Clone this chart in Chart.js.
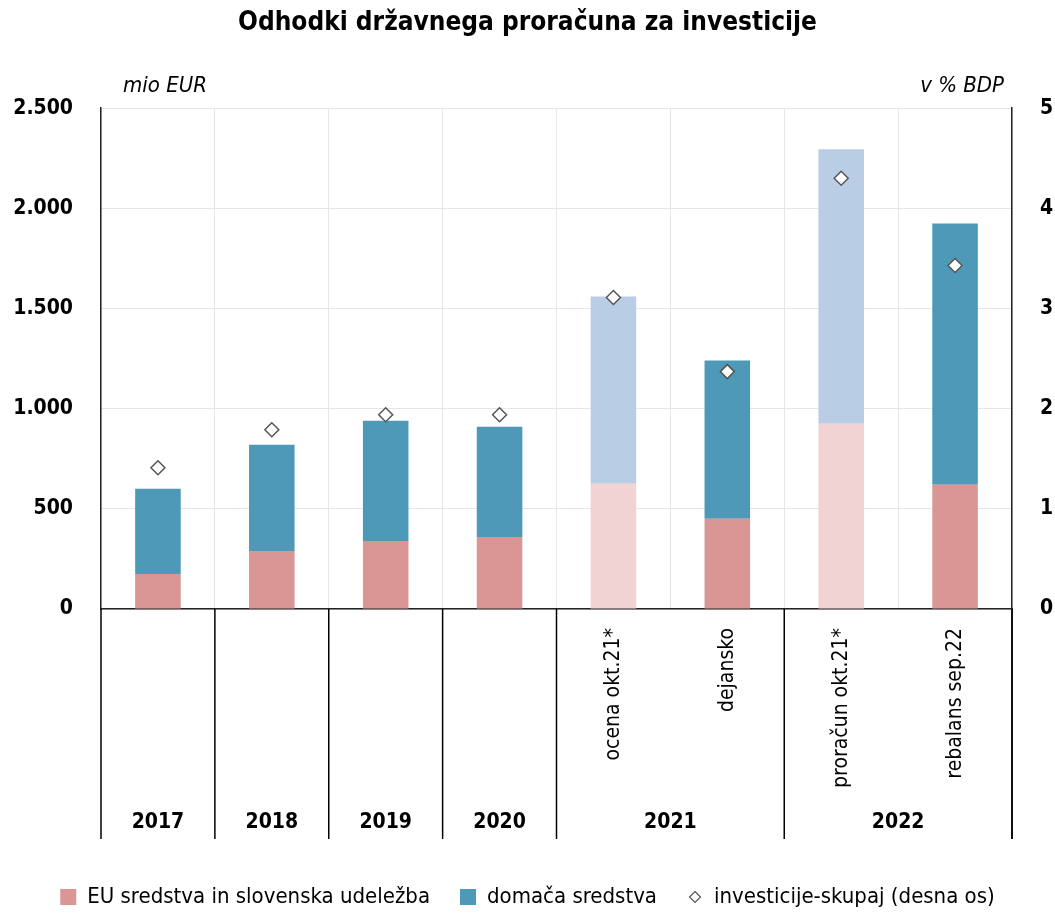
<!DOCTYPE html>
<html lang="sl">

<head>
    <meta charset="UTF-8">
    <title>Odhodki državnega proračuna za investicije</title>
    <script src="https://cdn.jsdelivr.net/npm/chart.js"></script>
    <style>
        html, body {
            margin: 0;
            padding: 0;
            background: #fff;
        }
    </style>
</head>

<body>
    <canvas id="investChart" width="1055" height="918"></canvas>

    <script>
        // data
        var categories = ['2017', '2018', '2019', '2020', 'ocena okt.21*', 'dejansko', 'proračun okt.21*', 'rebalans sep.22'];
        var subLabels = ['', '', '', '', 'ocena okt.21*', 'dejansko', 'proračun okt.21*', 'rebalans sep.22'];
        var yearLabels = ['2017', '2018', '2019', '2020', '2021', '2022'];
        var yearSpans = [[0, 0], [1, 1], [2, 2], [3, 3], [4, 5], [6, 7]];
        var euFunds = [175, 290, 340, 360, 625, 450, 925, 620];
        var domesticFunds = [425, 530, 600, 550, 935, 790, 1370, 1305];
        var investTotalGdp = [1.41, 1.79, 1.94, 1.94, 3.11, 2.37, 4.30, 3.43];
        var leftTicks = [0, 500, 1000, 1500, 2000, 2500];
        var rightTicks = [0, 1, 2, 3, 4, 5];

        var FONT = '"DejaVu Sans Condensed", "Liberation Sans Narrow", sans-serif';
        var pink = '#d99694', pinkLight = '#f2d3d3';
        var blue = '#4e99b7', blueLight = '#b9cde5';
        // planned values (ocena / proračun) are drawn in pale colours
        var planned = [false, false, false, false, true, false, true, false];

        function fmt(v) {
            return v >= 1000 ? Math.floor(v / 1000) + '.' + String(v % 1000).padStart(3, '0') : String(v);
        }

        // small hollow diamond for the legend
        var diamond = document.createElement('canvas');
        diamond.width = 14;
        diamond.height = 14;
        (function () {
            var d = diamond.getContext('2d');
            d.beginPath();
            d.moveTo(7, 1.5); d.lineTo(12.5, 7); d.lineTo(7, 12.5); d.lineTo(1.5, 7); d.closePath();
            d.fillStyle = '#fff';
            d.fill();
            d.strokeStyle = '#555';
            d.lineWidth = 1.2;
            d.stroke();
        })();

        var multiLevel = {
            id: 'multiLevel',
            afterDraw: function (chart) {
                var ctx = chart.ctx, x = chart.scales.x, area = chart.chartArea;
                var half = (x.getPixelForValue(1) - x.getPixelForValue(0)) / 2;
                var bottom = area.bottom + 230;
                ctx.save();
                ctx.strokeStyle = '#000';
                ctx.lineWidth = 1.5;
                // group separators
                var edges = [area.left, area.right];
                yearSpans.forEach(function (s) {
                    edges.push(x.getPixelForValue(s[1]) + half);
                });
                edges.forEach(function (e) {
                    ctx.beginPath();
                    ctx.moveTo(e, area.bottom);
                    ctx.lineTo(e, bottom);
                    ctx.stroke();
                });
                ctx.fillStyle = '#000';
                // rotated sub labels
                ctx.font = '21px ' + FONT;
                subLabels.forEach(function (t, i) {
                    if (!t) return;
                    ctx.save();
                    ctx.translate(x.getPixelForValue(i), area.bottom + 19);
                    ctx.rotate(-Math.PI / 2);
                    ctx.textAlign = 'right';
                    ctx.textBaseline = 'middle';
                    ctx.fillText(t, 0, 0);
                    ctx.restore();
                });
                // years
                ctx.font = 'bold 21px ' + FONT;
                ctx.textAlign = 'center';
                ctx.textBaseline = 'middle';
                yearLabels.forEach(function (t, i) {
                    var cx = (x.getPixelForValue(yearSpans[i][0]) + x.getPixelForValue(yearSpans[i][1])) / 2;
                    ctx.fillText(t, cx, bottom - 16);
                });
                // axis unit captions
                ctx.font = 'italic 22px ' + FONT;
                ctx.textBaseline = 'alphabetic';
                ctx.textAlign = 'left';
                ctx.fillText('mio EUR', area.left + 22, area.top - 16);
                ctx.textAlign = 'right';
                ctx.fillText('v % BDP', area.right - 8, area.top - 16);
                ctx.restore();
            }
        };

        var ctx = document.getElementById('investChart').getContext('2d');
        var chart = new Chart(ctx, {
            type: 'bar',
            data: {
                labels: categories,
                datasets: [{
                    type: 'line',
                    label: 'investicije-skupaj (desna os)',
                    data: investTotalGdp,
                    yAxisID: 'y1',
                    showLine: false,
                    pointStyle: 'rectRot',
                    pointRadius: 7,
                    pointBackgroundColor: '#fff',
                    pointBorderColor: '#555',
                    pointBorderWidth: 1.5,
                    order: 0
                }, {
                    label: 'EU sredstva in slovenska udeležba',
                    data: euFunds,
                    backgroundColor: planned.map(function (p) { return p ? pinkLight : pink; }),
                    stack: 's',
                    order: 1
                }, {
                    label: 'domača sredstva',
                    data: domesticFunds,
                    backgroundColor: planned.map(function (p) { return p ? blueLight : blue; }),
                    stack: 's',
                    order: 1
                }]
            },
            options: {
                responsive: false,
                animation: false,
                devicePixelRatio: 1,
                categoryPercentage: 1,
                barPercentage: 0.4,
                layout: { padding: { top: 0, left: 0, right: 0, bottom: 0 } },
                plugins: {
                    title: {
                        display: true,
                        text: 'Odhodki državnega proračuna za investicije',
                        color: '#000',
                        font: { family: FONT, size: 26, weight: 'bold' },
                        padding: { top: 8, bottom: 69 }
                    },
                    legend: {
                        position: 'bottom',
                        labels: {
                            color: '#000',
                            font: { family: FONT, size: 22 },
                            usePointStyle: true,
                            boxWidth: 16,
                            boxHeight: 16,
                            padding: 30,
                            generateLabels: function (c) {
                                var ds = c.data.datasets;
                                return [
                                    { text: ds[1].label, fillStyle: pink, strokeStyle: pink, lineWidth: 0, pointStyle: 'rect', datasetIndex: 1, fontColor: '#000' },
                                    { text: ds[2].label, fillStyle: blue, strokeStyle: blue, lineWidth: 0, pointStyle: 'rect', datasetIndex: 2, fontColor: '#000' },
                                    { text: ds[0].label, pointStyle: diamond, datasetIndex: 0, fontColor: '#000' }
                                ];
                            }
                        }
                    },
                    tooltip: { enabled: false }
                },
                scales: {
                    x: {
                        stacked: true,
                        ticks: { display: false },
                        grid: { color: '#e6e6e6', drawTicks: false },
                        border: { color: '#222', width: 1.5 },
                        afterFit: function (s) { s.height = 247; }
                    },
                    y: {
                        stacked: true,
                        position: 'left',
                        min: 0,
                        max: 2500,
                        afterBuildTicks: function (s) { s.ticks = leftTicks.map(function (v) { return { value: v }; }); },
                        ticks: {
                            color: '#000',
                            padding: 28,
                            font: { family: FONT, size: 21, weight: 'bold' },
                            callback: function (v) { return fmt(v); }
                        },
                        grid: { color: '#e6e6e6', drawTicks: false },
                        border: { color: '#222', width: 1.5 },
                        afterFit: function (s) { s.width = 101; }
                    },
                    y1: {
                        position: 'right',
                        min: 0,
                        max: 5,
                        afterBuildTicks: function (s) { s.ticks = rightTicks.map(function (v) { return { value: v }; }); },
                        ticks: {
                            color: '#000',
                            padding: 28,
                            font: { family: FONT, size: 21, weight: 'bold' }
                        },
                        grid: { display: false, drawTicks: false },
                        border: { color: '#222', width: 1.5 },
                        afterFit: function (s) { s.width = 43; }
                    }
                }
            },
            plugins: [multiLevel]
        });
    </script>
</body>

</html>
